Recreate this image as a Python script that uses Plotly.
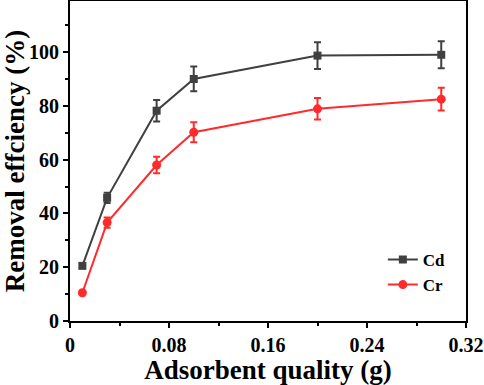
import plotly.graph_objects as go

x_vals = [0.01, 0.03, 0.07, 0.10, 0.20, 0.30]
cd_vals = [20.5, 45.8, 78.2, 90.0, 98.7, 99.0]
cd_err = [0.8, 1.9, 4.0, 4.6, 5.0, 5.0]
cr_vals = [10.5, 36.6, 58.0, 70.2, 78.9, 82.5]
cr_err = [0.5, 1.9, 3.1, 3.7, 4.0, 4.2]

x_ticks = [0, 0.08, 0.16, 0.24, 0.32]
x_tick_text = ["0", "0.08", "0.16", "0.24", "0.32"]
y_ticks = [0, 20, 40, 60, 80, 100]

font_family = "Liberation Serif, Times New Roman, serif"
cd_color = "#404040"
cr_color = "#FF2B2B"

fig = go.Figure()
fig.add_trace(go.Scatter(
    x=x_vals, y=cd_vals, name="<b>Cd</b>", mode="lines+markers",
    line=dict(color=cd_color, width=2),
    marker=dict(symbol="square", size=8, color=cd_color),
    error_y=dict(type="data", array=cd_err, visible=True, color=cd_color, thickness=2, width=3.5),
))
fig.add_trace(go.Scatter(
    x=x_vals, y=cr_vals, name="<b>Cr</b>", mode="lines+markers",
    line=dict(color=cr_color, width=2),
    marker=dict(symbol="circle", size=9, color=cr_color),
    error_y=dict(type="data", array=cr_err, visible=True, color=cr_color, thickness=2, width=3.5),
))

fig.update_layout(
    width=484, height=385,
    margin=dict(l=70, r=18, t=1, b=64, autoexpand=False),
    paper_bgcolor="white", plot_bgcolor="white",
    font=dict(family=font_family, color="black"),
    showlegend=True,
    legend=dict(x=0.79, y=0.247, xanchor="left", yanchor="top",
                font=dict(size=17, family=font_family, color="black"),
                bgcolor="rgba(0,0,0,0)", tracegroupgap=0),
)
fig.update_xaxes(
    range=[0, 0.32], tickvals=x_ticks, ticktext=x_tick_text, automargin=False,
    showgrid=False, zeroline=False,
    showline=True, linecolor="black", linewidth=2, mirror=True,
    ticks="outside", ticklen=5, tickwidth=2, tickcolor="black",
    minor=dict(dtick=0.04, tick0=0, ticks="outside", ticklen=3, tickwidth=2, tickcolor="black"),
    tickfont=dict(size=20, family=font_family, color="black", weight="bold"),
    title=dict(text="<b>Adsorbent quality (g)</b>", font=dict(size=27, family=font_family), standoff=4),
)
fig.update_yaxes(
    range=[0, 119], tickvals=y_ticks, automargin=False,
    showgrid=False, zeroline=False,
    showline=True, linecolor="black", linewidth=2, mirror=True,
    ticks="outside", ticklen=5, tickwidth=2, tickcolor="black",
    minor=dict(dtick=10, tick0=0, ticks="outside", ticklen=3, tickwidth=2, tickcolor="black"),
    tickfont=dict(size=20, family=font_family, color="black", weight="bold"),
    title=dict(text="<b>Removal effciency (%)</b>", font=dict(size=27, family=font_family), standoff=4),
)

fig.write_html("out.html", config={"displayModeBar": False},
               post_script="document.body.style.margin='0';document.body.style.overflow='hidden';")
